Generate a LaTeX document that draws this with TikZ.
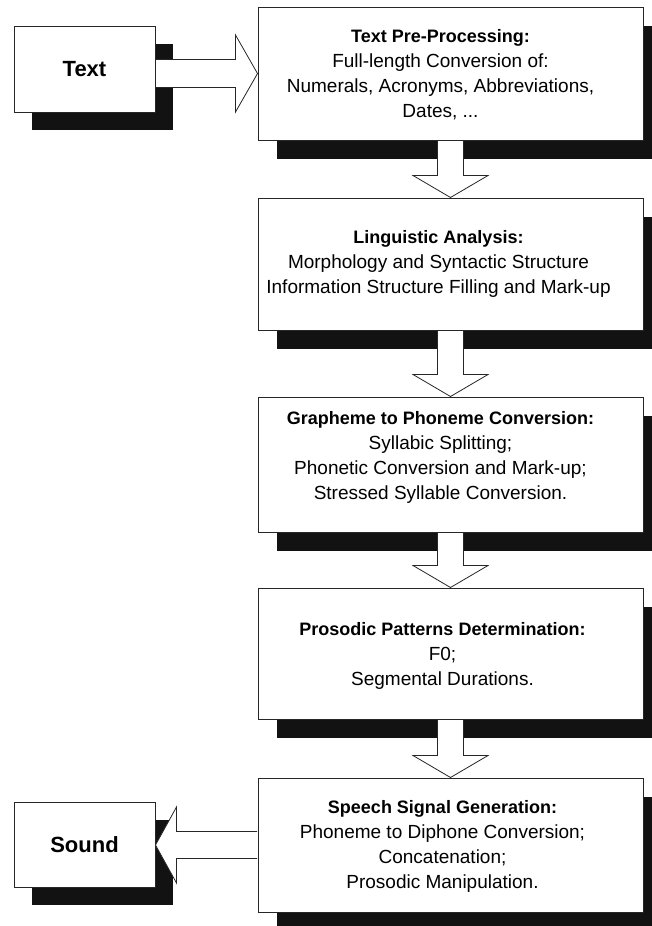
\documentclass[tikz,border=0pt]{standalone}
\usepackage{fontspec}
\setmainfont{Liberation Sans}
\usetikzlibrary{positioning, calc, shadows}

\begin{document}
\begin{tikzpicture}[
    x=1pt, y=-1pt,
    box line/.style={draw=black!85, line width=1pt, fill=white},
    stage box/.style={box line, minimum width=385pt, minimum height=133pt, inner sep=0pt,
        drop shadow={shadow xshift=19pt, shadow yshift=-19pt, opacity=1, fill=black!93}},
    end box/.style={box line, minimum width=141pt, minimum height=86pt, inner sep=0pt,
        font=\bfseries\fontsize{22}{26}\selectfont,
        drop shadow={shadow xshift=18pt, shadow yshift=-18pt, opacity=1, fill=black!93}},
    stage text/.style={align=center, inner sep=0pt, font=\fontsize{19}{25}\selectfont},
    block arrow/.style={draw=black!85, line width=0.8pt, fill=white, line join=miter}
]

\newcommand{\stagetitle}[1]{{\bfseries\fontsize{18}{25}\selectfont #1}}

\useasboundingbox (0,0) rectangle (651,926);

% --- 1. Input and output ---
\node[end box] (txt) at (84.5,69) {Text};
\node[end box, minimum height=85pt] (snd) at (84.5,844.5) {Sound};

% --- 2. Processing stages ---
\node[stage box] (b1) at (450.5,73.5) {};
\node[stage box, minimum height=132pt] (b2) at (450.5,264) {};
\node[stage box, minimum height=135pt] (b3) at (450.5,464.5) {};
\node[stage box, minimum height=131pt] (b4) at (450.5,653.5) {};
\node[stage box, minimum height=134pt] (b5) at (450.5,845) {};

\node[stage text] (t1) at ($(b1.center)+(-10,1)$) {
    \stagetitle{Text Pre-Processing:}\\
    Full-length Conversion of:\\
    Numerals, Acronyms, Abbreviations,\\
    Dates, ...};
\node[stage text] (t2) at ($(b2.center)+(-12,0)$) {
    \stagetitle{Linguistic Analysis:}\\
    Morphology and Syntactic Structure\\
    Information Structure Filling and Mark-up};
\node[stage text] (t3) at ($(b3.center)+(-10,-7)$) {
    \stagetitle{Grapheme to Phoneme Conversion:}\\
    Syllabic Splitting;\\
    Phonetic Conversion and Mark-up;\\
    Stressed Syllable Conversion.};
\node[stage text] (t4) at ($(b4.center)+(-8,2)$) {
    \stagetitle{Prosodic Patterns Determination:}\\
    F0;\\
    Segmental Durations.};
\node[stage text] (t5) at ($(b5.center)+(-8,1)$) {
    \stagetitle{Speech Signal Generation:}\\
    Phoneme to Diphone Conversion;\\
    Concatenation;\\
    Prosodic Manipulation.};

% --- 3. Block arrows ---
% Text -> first stage
\draw[block arrow] ($(txt.east |- b1.west)+(0.5,-14)$) -- ($(b1.west)+(-22,-14)$)
    -- ($(b1.west)+(-22,-38.5)$) -- (b1.west) -- ($(b1.west)+(-22,38.5)$)
    -- ($(b1.west)+(-22,14)$) -- ($(txt.east |- b1.west)+(0.5,14)$);

% stage -> stage
\foreach \a/\b in {b1/b2, b2/b3, b3/b4, b4/b5}{
    \draw[block arrow] ($(\a.south)+(-13,0.5)$) -- ($(\b.north)+(-13,-22)$)
        -- ($(\b.north)+(-37.5,-22)$) -- (\b.north) -- ($(\b.north)+(37.5,-22)$)
        -- ($(\b.north)+(13,-22)$) -- ($(\a.south)+(13,0.5)$);
}

% last stage -> Sound
\coordinate (sndtip) at (snd.east |- b5.west);
\draw[block arrow] ($(b5.west)+(-0.5,-13.5)$) -- ($(sndtip)+(21,-13.5)$)
    -- ($(sndtip)+(21,-38)$) -- (sndtip) -- ($(sndtip)+(21,38)$)
    -- ($(sndtip)+(21,13.5)$) -- ($(b5.west)+(-0.5,13.5)$);

\end{tikzpicture}
\end{document}
